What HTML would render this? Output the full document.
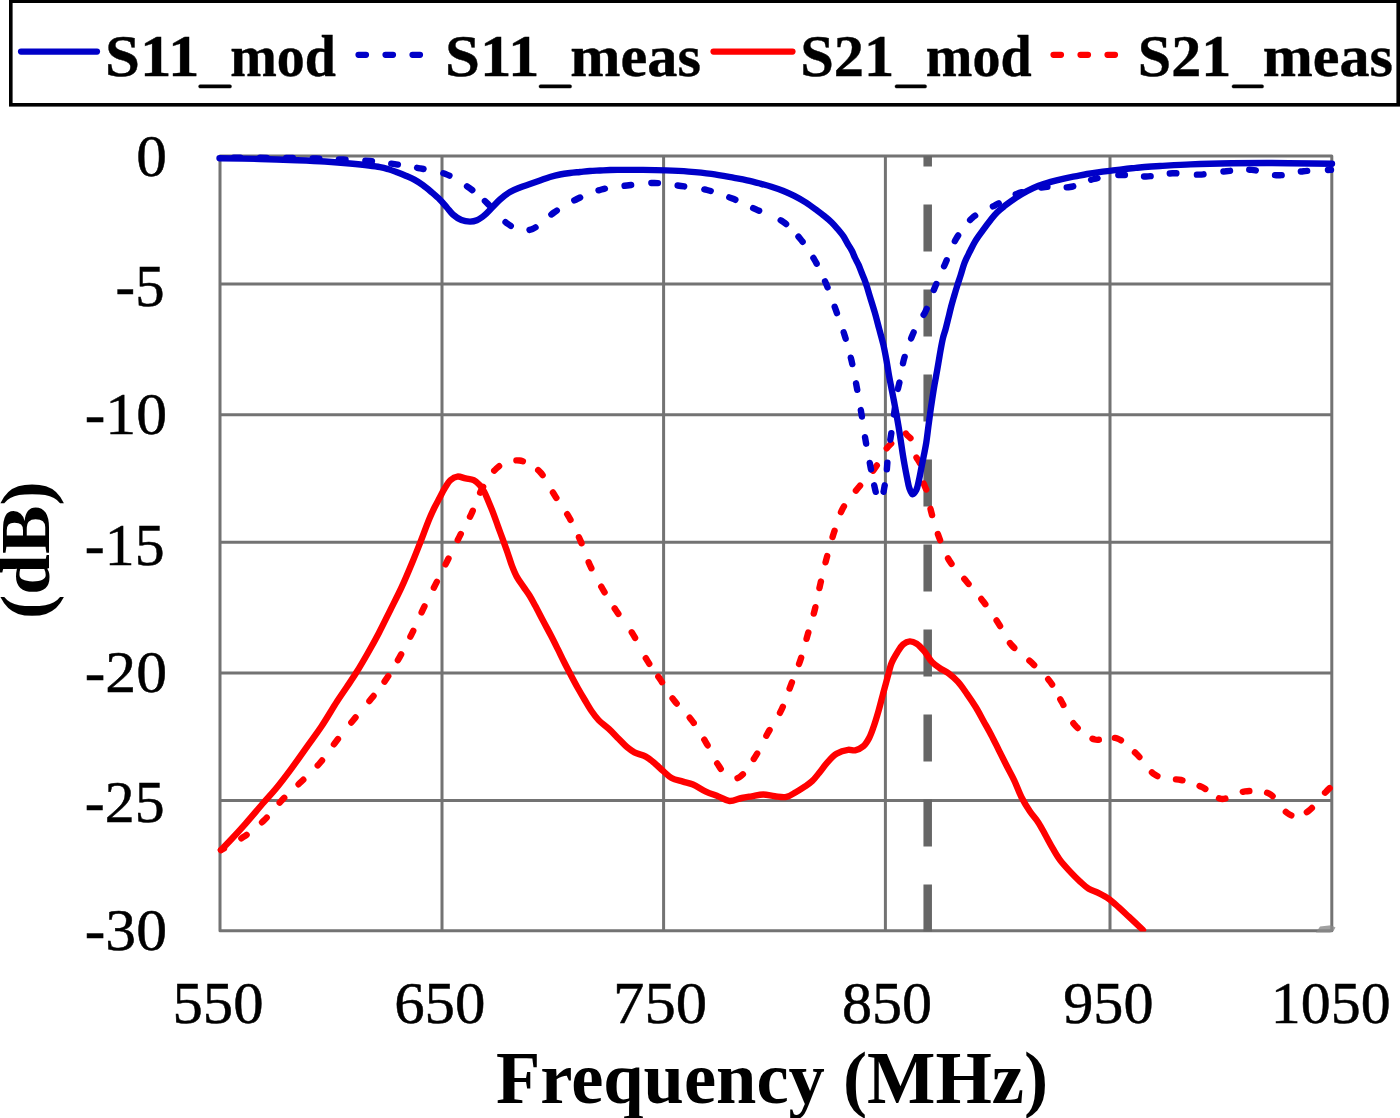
<!DOCTYPE html>
<html><head><meta charset="utf-8"><style>
html,body{margin:0;padding:0;background:#fff;}
svg{display:block;}
text{font-family:"Liberation Serif",serif;}
</style></head><body>
<svg width="1400" height="1118" viewBox="0 0 1400 1118">
<defs><clipPath id="clip"><rect x="214" y="150" width="1125" height="781.5"/></clipPath></defs>
<rect width="1400" height="1118" fill="#fff"/>
<g stroke="#737373" stroke-width="3" fill="none" stroke-linejoin="round"><line x1="442" y1="156" x2="442" y2="930.8"/><line x1="663.6" y1="156" x2="663.6" y2="930.8"/><line x1="885.4" y1="156" x2="885.4" y2="930.8"/><line x1="1110" y1="156" x2="1110" y2="930.8"/><line x1="220" y1="284.1" x2="1331.8" y2="284.1"/><line x1="220" y1="414.7" x2="1331.8" y2="414.7"/><line x1="220" y1="542.3" x2="1331.8" y2="542.3"/><line x1="220" y1="673" x2="1331.8" y2="673"/><line x1="220" y1="800.6" x2="1331.8" y2="800.6"/><rect x="220" y="156" width="1111.8" height="774.8" fill="none"/></g>
<path d="M1316,932.4 L1320,926.5 L1331,925.3 L1335.5,927.5 L1333.5,931 L1330,932.6 Z" fill="#8a8a8a" opacity="0.8"/>
<line x1="927.7" y1="931.5" x2="927.7" y2="156" stroke="#666" stroke-width="8.5" stroke-dasharray="47 38"/>
<g clip-path="url(#clip)">
<path d="M221.00,850.00 C221.00,850.00 236.66,841.70 243.90,836.70 C251.13,831.70 258.07,826.08 264.40,820.00 C270.73,813.92 275.81,806.54 281.90,800.20 C287.98,793.87 294.60,788.17 300.90,782.00 C307.27,775.77 314.06,769.73 319.90,763.00 C325.72,756.30 330.43,748.73 335.90,741.70 C341.40,734.63 346.99,727.76 352.80,720.70 C358.81,713.39 365.62,705.82 371.40,698.60 C376.76,691.91 381.74,685.75 386.40,678.90 C391.11,671.99 395.31,664.72 399.50,657.30 C403.79,649.70 407.89,641.76 411.80,633.80 C415.73,625.79 419.11,617.51 423.00,609.40 C426.94,601.21 431.25,592.97 435.30,584.90 C439.25,577.01 443.06,569.38 447.00,561.50 C451.02,553.45 455.10,545.12 459.20,537.10 C463.23,529.22 467.59,521.82 471.40,513.80 C475.31,505.57 477.95,496.05 482.30,488.30 C486.37,481.04 491.56,473.02 496.40,468.50 C499.86,465.27 503.16,463.33 507.00,462.00 C510.86,460.66 515.57,460.02 519.50,460.50 C523.21,460.96 526.63,462.63 530.00,464.50 C533.65,466.53 537.09,468.75 540.50,472.50 C545.34,477.82 549.71,487.48 554.50,495.00 C559.37,502.65 565.13,510.27 569.50,518.00 C573.63,525.31 576.86,532.44 580.20,540.10 C583.69,548.11 586.16,556.94 589.90,565.10 C593.68,573.35 598.30,581.53 602.80,589.30 C607.15,596.81 611.55,603.77 616.40,611.00 C621.45,618.54 627.56,625.56 632.60,633.60 C637.90,642.07 642.35,652.63 647.30,660.70 C651.53,667.61 655.74,672.86 660.10,679.30 C664.76,686.19 669.15,694.00 674.40,700.80 C679.65,707.60 686.37,713.22 691.60,720.10 C696.88,727.05 701.39,734.70 705.90,742.30 C710.46,749.97 714.30,759.37 718.80,765.90 C722.40,771.13 725.91,777.66 730.00,779.00 C733.19,780.04 736.86,778.78 740.20,776.60 C745.37,773.23 750.75,763.74 755.30,756.60 C760.01,749.21 763.55,740.67 767.90,732.90 C772.22,725.20 777.51,718.07 781.30,710.20 C785.07,702.37 787.45,694.07 790.60,685.80 C793.85,677.25 797.61,668.37 800.50,659.70 C803.29,651.33 805.32,643.04 807.70,634.70 C810.08,626.34 812.71,617.99 814.80,609.60 C816.87,601.29 818.22,593.20 820.20,584.60 C822.33,575.37 824.76,565.13 827.20,556.00 C829.47,547.52 831.66,539.62 834.30,531.60 C836.93,523.62 838.98,515.33 843.00,508.00 C847.08,500.55 853.31,494.01 858.70,487.30 C864.02,480.68 870.44,474.57 875.10,468.00 C879.38,461.95 882.48,454.25 885.90,449.50 C888.29,446.17 890.73,444.27 892.80,441.60 C894.74,439.10 895.95,435.63 898.00,434.00 C899.66,432.68 901.99,431.49 903.60,431.80 C905.13,432.10 906.21,434.21 907.50,435.50 C908.84,436.84 910.37,437.65 911.50,439.70 C913.38,443.12 913.98,451.84 915.40,455.40 C916.20,457.39 917.08,458.33 917.90,459.80 C918.71,461.26 919.65,462.22 920.30,464.20 C921.42,467.61 921.36,475.02 922.30,479.00 C922.96,481.80 923.85,483.77 924.70,486.00 C925.49,488.09 926.40,489.38 927.20,492.00 C928.60,496.57 929.37,504.56 931.10,511.40 C933.10,519.30 935.73,528.36 938.80,536.60 C941.89,544.89 944.98,553.51 949.60,561.00 C954.21,568.47 960.85,574.69 966.50,581.50 C972.15,588.29 978.13,594.76 983.50,601.80 C988.91,608.89 994.10,616.59 998.80,623.90 C1003.22,630.79 1005.91,638.26 1011.00,644.40 C1016.25,650.73 1023.71,655.25 1030.00,661.20 C1036.61,667.45 1044.32,674.06 1049.70,681.10 C1054.63,687.56 1057.46,694.44 1061.50,701.50 C1065.84,709.07 1069.16,718.68 1074.90,725.10 C1080.35,731.20 1088.73,737.85 1094.70,739.50 C1098.76,740.62 1102.23,738.67 1106.00,738.50 C1109.76,738.33 1113.30,737.09 1117.30,738.50 C1123.22,740.58 1130.61,748.20 1136.60,754.00 C1142.77,759.97 1148.10,769.87 1153.70,773.90 C1157.52,776.65 1160.82,777.48 1165.00,778.50 C1169.82,779.68 1175.48,778.81 1181.10,780.00 C1187.62,781.38 1195.11,783.81 1201.70,786.90 C1208.45,790.07 1215.40,798.06 1221.10,798.90 C1225.11,799.49 1228.22,797.16 1232.00,796.00 C1236.19,794.71 1240.00,792.02 1245.10,791.40 C1251.82,790.58 1262.17,790.31 1269.10,793.70 C1276.39,797.27 1281.87,809.50 1287.40,813.10 C1290.82,815.33 1293.69,816.68 1297.00,816.50 C1300.72,816.30 1304.63,813.87 1308.60,810.90 C1314.28,806.65 1321.97,795.83 1326.30,791.40 C1328.67,788.98 1332.00,786.00 1332.00,786.00" fill="none" stroke="#ff0000" stroke-width="6.4" stroke-linecap="round" stroke-linejoin="round" stroke-dasharray="3.49 19.70 6.60 19.87 6.60 19.84 6.60 19.71 6.60 20.28 6.60 20.05 6.60 21.32 6.60 21.32 6.60 18.17 6.60 18.67 6.60 19.93 6.60 20.25 6.60 20.81 6.60 19.56 6.60 20.68 6.60 19.70 6.60 19.47 6.60 19.47 6.60 18.62 6.60 17.97 6.60 19.94 6.60 19.42 6.60 19.42 6.60 20.22 6.60 20.83 6.60 19.01 6.60 22.73 6.60 22.73 6.60 15.98 6.60 19.23 6.60 19.27 6.60 19.82 6.60 20.31 6.60 21.72 6.60 18.61 6.60 19.92 6.60 20.11 6.60 19.52 6.60 19.67 6.60 19.67 6.60 19.67 6.60 19.67 6.60 19.67 6.60 19.67 6.60 19.67 6.60 19.67 6.60 19.67 6.60 19.67 6.60 20.70 6.60 20.38 6.60 20.70 6.60 19.79 6.60 19.70 6.60 19.70 6.60 19.70 6.60 19.70 6.60 19.70 6.60 19.70 6.60 19.70 6.60 19.70 6.60 16.99 6.60 20.61 6.60 18.14 6.60 16.26 6.60 18.31 6.60 19.70 6.60 19.11 6.60 17.95 6.60 16.36 6.60 18.75 6.60 17.81 6.60 20.26 6.60 16.83 6.60 19.78 6.60 2443.34" stroke-dashoffset="4382.13"/>
<path d="M221.00,850.00 C221.00,850.00 226.78,844.14 230.20,840.50 C234.67,835.74 240.14,829.74 245.40,823.80 C251.26,817.17 258.21,808.80 263.70,802.50 C268.13,797.41 271.62,793.86 275.80,788.80 C280.67,782.90 286.00,775.84 291.00,769.10 C296.13,762.19 301.13,754.90 306.20,747.80 C311.27,740.70 316.41,733.97 321.40,726.50 C326.69,718.58 332.34,708.67 337.00,701.50 C340.59,695.98 343.56,691.86 346.80,687.00 C350.06,682.13 353.22,677.54 356.50,672.30 C360.15,666.46 363.93,659.94 367.60,653.50 C371.40,646.82 375.20,639.96 378.90,632.90 C382.74,625.58 386.45,617.84 390.20,610.30 C393.95,602.77 397.76,595.57 401.40,587.70 C405.28,579.32 409.36,569.45 412.70,561.40 C415.50,554.63 417.58,549.28 420.20,542.60 C423.18,535.00 426.88,524.65 429.60,518.20 C431.42,513.87 432.81,510.94 434.50,507.50 C436.11,504.22 437.81,501.18 439.50,498.00 C441.21,494.78 442.82,491.34 444.70,488.30 C446.50,485.39 448.20,482.09 450.50,480.10 C452.52,478.36 454.94,476.91 457.40,476.60 C459.96,476.27 462.87,477.81 465.60,478.40 C468.31,478.98 471.34,478.98 473.70,480.10 C475.94,481.17 477.79,482.94 479.50,484.80 C481.31,486.77 482.75,489.08 484.20,491.70 C485.90,494.77 487.28,498.60 488.80,502.20 C490.38,505.96 491.98,509.82 493.50,513.80 C495.08,517.95 496.55,522.34 498.10,526.60 C499.65,530.87 501.25,535.13 502.80,539.40 C504.35,543.66 505.88,547.83 507.40,552.20 C508.98,556.75 510.44,561.91 512.10,566.20 C513.56,569.96 514.83,573.20 516.70,576.60 C518.66,580.18 521.46,583.80 523.70,587.10 C525.71,590.06 527.65,592.53 529.50,595.50 C531.46,598.64 533.09,601.79 535.10,605.50 C537.58,610.09 540.50,615.88 543.20,621.00 C545.86,626.05 548.70,631.17 551.20,636.00 C553.51,640.45 555.55,644.58 557.70,648.90 C559.86,653.24 561.96,657.74 564.10,662.00 C566.16,666.10 568.12,669.85 570.30,674.00 C572.67,678.50 575.33,683.58 577.80,688.00 C580.06,692.04 582.22,695.68 584.50,699.50 C586.79,703.34 589.05,707.46 591.50,711.00 C593.77,714.28 595.87,717.24 598.60,720.10 C601.52,723.16 605.32,725.66 608.60,728.70 C611.99,731.85 615.39,735.49 618.60,738.70 C621.57,741.67 624.35,744.92 627.20,747.30 C629.62,749.32 631.62,750.84 634.40,752.30 C637.67,754.02 642.38,754.73 645.80,756.60 C649.00,758.35 651.59,760.68 654.40,763.00 C657.33,765.43 660.10,768.37 663.00,770.90 C665.83,773.37 668.34,776.23 671.60,778.00 C674.98,779.84 679.32,780.48 683.00,781.60 C686.44,782.64 689.54,783.07 693.00,784.50 C697.12,786.21 701.53,789.56 705.90,791.60 C710.14,793.58 714.71,794.97 718.80,796.60 C722.54,798.09 725.77,800.72 729.50,801.00 C733.39,801.29 737.83,798.81 741.70,798.00 C745.16,797.28 748.16,796.86 751.60,796.30 C755.33,795.69 759.41,794.50 763.30,794.50 C767.18,794.50 771.02,795.90 774.90,796.30 C778.76,796.70 782.94,797.65 786.50,796.90 C789.87,796.19 792.74,793.92 795.80,792.20 C798.94,790.43 802.26,788.34 805.10,786.40 C807.64,784.67 809.88,783.28 812.10,781.20 C814.57,778.89 816.72,775.92 819.10,773.00 C821.74,769.77 824.28,765.82 827.20,762.60 C830.08,759.43 832.97,755.94 836.50,753.80 C839.96,751.71 844.68,750.25 848.10,749.80 C850.69,749.46 852.74,750.76 855.10,750.30 C857.79,749.78 861.00,748.25 863.30,746.30 C865.71,744.25 867.43,741.18 869.10,738.10 C870.96,734.67 872.23,730.65 873.70,726.50 C875.35,721.83 876.90,716.63 878.40,711.40 C880.00,705.82 881.46,699.72 883.00,694.00 C884.50,688.42 886.02,682.82 887.50,677.50 C888.89,672.51 889.83,667.36 891.60,663.00 C893.18,659.12 895.30,655.71 897.30,652.50 C899.12,649.59 900.74,646.38 903.00,644.50 C904.96,642.87 907.42,641.53 909.70,641.40 C911.98,641.27 914.47,642.33 916.70,643.70 C919.39,645.35 921.88,648.45 924.30,651.30 C926.97,654.44 929.15,659.00 931.90,661.90 C934.27,664.41 936.78,666.13 939.50,668.00 C942.33,669.94 945.67,671.15 948.60,673.30 C951.79,675.64 954.88,678.49 957.80,681.70 C961.02,685.24 963.93,689.60 966.90,693.80 C970.00,698.18 973.19,702.88 976.00,707.50 C978.74,712.01 981.07,716.63 983.60,721.20 C986.13,725.77 988.72,730.19 991.20,734.90 C993.79,739.81 996.27,745.03 998.80,750.10 C1001.33,755.17 1003.83,760.26 1006.40,765.30 C1008.96,770.33 1011.73,775.10 1014.20,780.30 C1016.78,785.72 1018.79,791.88 1021.50,797.20 C1024.08,802.25 1027.03,807.08 1030.00,811.50 C1032.75,815.60 1035.98,818.89 1038.60,822.90 C1041.26,826.98 1043.41,831.50 1045.80,835.80 C1048.18,840.10 1050.47,844.56 1052.90,848.70 C1055.24,852.68 1057.33,856.48 1060.10,860.20 C1063.02,864.13 1066.71,867.98 1070.10,871.60 C1073.38,875.10 1076.83,878.60 1080.10,881.60 C1083.01,884.27 1085.57,886.88 1088.70,888.80 C1091.78,890.70 1095.40,891.47 1098.70,893.10 C1102.10,894.79 1105.55,896.52 1108.80,898.80 C1112.27,901.23 1115.50,904.44 1118.80,907.40 C1122.16,910.41 1125.18,913.32 1128.80,916.70 C1133.12,920.73 1143.00,930.00 1143.00,930.00" fill="none" stroke="#ff0000" stroke-width="6.4" stroke-linecap="round" stroke-linejoin="round"/>
<path d="M219.50,157.50 C219.50,157.50 247.51,157.71 260.00,157.80 C270.75,157.88 279.28,157.83 290.00,158.00 C302.38,158.20 316.67,158.50 330.00,159.00 C343.34,159.50 358.30,159.97 370.00,161.00 C379.21,161.81 386.32,162.89 394.60,164.10 C403.09,165.34 411.73,166.70 420.30,168.40 C428.99,170.12 438.19,171.13 446.40,174.40 C454.63,177.68 462.61,183.10 469.60,188.10 C476.07,192.73 482.34,198.57 487.10,203.10 C490.67,206.50 492.77,209.25 496.00,212.50 C499.66,216.18 503.73,220.94 508.00,224.00 C511.93,226.82 516.26,229.74 520.50,230.50 C524.43,231.21 528.80,230.44 532.50,229.00 C536.32,227.51 539.50,224.17 543.00,221.50 C546.67,218.69 549.52,215.62 554.00,212.50 C560.14,208.23 569.05,202.84 577.00,199.00 C584.89,195.19 593.13,191.75 601.50,189.50 C609.80,187.27 618.33,186.57 627.00,185.50 C635.95,184.39 645.34,182.90 654.40,183.00 C663.34,183.10 672.20,184.83 681.00,186.00 C689.73,187.16 698.47,187.92 707.00,190.00 C715.61,192.10 724.17,195.33 732.40,198.60 C740.50,201.81 747.86,205.67 756.00,209.40 C764.75,213.41 775.55,216.59 783.20,221.90 C790.08,226.68 795.19,232.69 800.40,239.00 C805.79,245.52 810.61,253.00 814.90,260.50 C819.21,268.03 822.76,275.99 826.20,284.10 C829.71,292.38 832.63,301.16 835.70,309.70 C838.76,318.19 841.95,326.66 844.60,335.20 C847.21,343.63 849.50,352.07 851.50,360.60 C853.50,369.11 854.98,377.64 856.60,386.30 C858.25,395.11 859.82,404.07 861.30,413.00 C862.79,421.97 864.04,431.47 865.50,440.00 C866.82,447.72 868.24,454.84 869.60,462.00 C870.90,468.83 872.21,476.19 873.50,482.00 C874.51,486.52 875.19,491.04 876.50,494.00 C877.37,495.96 878.46,498.44 879.50,498.50 C880.46,498.56 881.73,496.52 882.50,495.00 C883.53,492.97 883.81,490.05 884.40,487.00 C885.17,483.00 885.96,477.59 886.50,473.00 C887.02,468.59 887.17,464.24 887.60,460.00 C888.01,455.92 888.46,451.94 889.00,448.00 C889.53,444.15 890.15,440.87 890.80,436.60 C891.62,431.16 892.52,424.72 893.50,418.00 C894.66,410.06 895.90,399.53 897.30,392.00 C898.39,386.15 899.76,381.68 900.80,376.50 C901.83,371.35 902.27,365.99 903.50,361.00 C904.69,356.17 906.47,351.39 908.00,347.00 C909.38,343.04 910.62,339.63 912.20,335.80 C913.92,331.65 915.79,327.00 918.00,323.00 C920.12,319.16 922.78,316.68 925.10,312.20 C928.43,305.78 931.43,295.63 934.80,287.50 C938.13,279.46 941.70,271.71 945.20,263.70 C948.77,255.54 952.42,245.46 956.00,239.00 C958.51,234.46 960.81,231.50 963.50,228.00 C966.17,224.53 968.84,220.94 972.10,218.10 C975.35,215.27 979.28,213.07 983.00,211.00 C986.61,208.99 990.44,207.63 994.10,205.80 C997.77,203.96 1001.30,201.94 1005.00,200.00 C1008.80,198.01 1011.75,195.82 1016.60,194.00 C1023.86,191.27 1035.77,188.12 1045.00,187.00 C1053.53,185.96 1061.86,188.32 1070.00,187.00 C1078.19,185.67 1085.75,180.99 1094.00,179.00 C1102.41,176.97 1111.31,175.41 1120.00,175.00 C1128.65,174.59 1137.31,176.77 1146.00,176.50 C1154.78,176.22 1163.53,173.62 1172.40,173.30 C1181.36,172.97 1190.53,174.96 1199.50,174.60 C1208.40,174.25 1217.21,171.98 1226.00,171.20 C1234.64,170.43 1243.24,169.23 1251.80,169.90 C1260.44,170.58 1268.98,175.09 1277.60,175.30 C1286.18,175.51 1294.63,172.10 1303.40,171.20 C1312.42,170.27 1331.00,169.90 1331.00,169.90" fill="none" stroke="#0000c8" stroke-width="6.4" stroke-linecap="round" stroke-linejoin="round" stroke-dasharray="6.60 19.70 6.60 19.70 6.60 19.70 6.60 19.70 6.60 19.70 6.60 19.70 6.60 19.46 6.60 20.23 6.60 20.41 6.60 16.47 6.60 22.99 6.60 19.84 6.60 20.58 6.60 20.09 6.60 19.72 6.60 19.91 6.60 20.26 6.60 19.86 6.60 20.39 6.60 19.57 6.60 19.69 6.60 23.39 6.60 17.74 6.60 19.36 6.60 19.58 6.60 20.71 6.60 20.41 6.60 19.73 6.60 19.60 6.60 20.51 6.60 20.73 6.60 19.73 6.60 16.11 6.60 16.11 6.60 16.11 6.60 23.32 6.60 18.95 6.60 18.95 6.60 19.55 6.60 19.70 6.60 20.40 6.60 19.95 6.60 19.37 6.60 20.56 6.60 19.67 6.60 20.08 6.60 19.33 6.60 19.33 6.60 19.33 6.60 19.04 6.60 21.04 6.60 19.15 6.60 19.35 6.60 20.55 6.60 20.13 6.60 19.27 6.60 19.82 6.60 19.58 6.60 20.51 6.60 2086.17" stroke-dashoffset="3632.31"/>
<path d="M219.50,158.30 C219.50,158.30 247.51,158.68 260.00,159.00 C270.75,159.27 279.62,159.60 290.00,160.00 C301.22,160.43 314.32,160.84 325.00,161.50 C334.04,162.06 341.30,162.63 350.00,163.50 C359.55,164.45 373.06,165.80 380.00,167.10 C383.76,167.80 385.76,168.44 388.60,169.30 C391.46,170.17 394.27,171.24 397.10,172.30 C399.97,173.37 402.85,174.49 405.70,175.70 C408.58,176.92 411.49,178.07 414.30,179.60 C417.22,181.19 420.10,183.08 422.90,185.10 C425.80,187.20 428.59,189.60 431.40,192.00 C434.29,194.46 437.36,197.05 440.00,199.70 C442.51,202.22 444.69,204.96 446.90,207.50 C448.98,209.89 450.56,212.45 452.90,214.50 C455.36,216.65 458.44,218.82 461.40,220.00 C464.15,221.10 467.29,221.60 470.00,221.60 C472.43,221.60 474.63,221.23 476.90,220.30 C479.51,219.23 482.20,217.08 484.60,215.10 C487.04,213.09 489.01,210.72 491.40,208.30 C494.11,205.56 496.91,202.21 500.00,199.50 C503.11,196.77 506.55,194.04 510.00,192.00 C513.23,190.09 516.64,188.84 520.00,187.50 C523.31,186.18 526.67,185.17 530.00,184.00 C533.33,182.83 536.67,181.67 540.00,180.50 C543.33,179.33 546.64,178.00 550.00,177.00 C553.31,176.01 556.65,175.17 560.00,174.50 C563.32,173.84 566.66,173.42 570.00,173.00 C573.33,172.58 576.67,172.33 580.00,172.00 C583.33,171.67 586.66,171.25 590.00,171.00 C593.33,170.75 596.67,170.67 600.00,170.50 C603.33,170.33 606.67,170.10 610.00,170.00 C613.33,169.90 615.99,169.92 620.00,169.90 C626.07,169.87 635.28,169.82 642.90,169.90 C650.51,169.98 658.09,170.12 665.70,170.40 C673.33,170.68 680.98,171.02 688.60,171.60 C696.22,172.18 703.81,172.86 711.40,173.90 C719.04,174.95 727.79,176.72 734.30,177.90 C739.16,178.78 742.75,179.38 747.00,180.30 C751.32,181.24 755.82,182.40 760.00,183.50 C763.93,184.54 767.61,185.51 771.40,186.70 C775.24,187.91 779.11,189.18 782.90,190.70 C786.74,192.24 790.54,193.98 794.30,195.90 C798.14,197.87 801.96,200.01 805.70,202.40 C809.56,204.86 813.85,208.10 817.10,210.50 C819.59,212.34 821.35,213.68 823.60,215.50 C826.13,217.54 829.08,219.85 831.50,222.20 C833.83,224.46 835.87,226.89 837.90,229.30 C839.89,231.66 841.95,234.04 843.60,236.50 C845.15,238.82 846.23,241.23 847.60,243.60 C848.99,246.00 850.64,248.36 851.90,250.80 C853.13,253.16 853.97,255.62 855.10,258.00 C856.24,260.39 857.63,262.70 858.70,265.10 C859.76,267.47 860.55,269.91 861.50,272.30 C862.45,274.68 863.50,277.01 864.40,279.40 C865.30,281.78 866.13,284.20 866.90,286.60 C867.66,288.97 868.12,290.78 869.00,293.70 C870.43,298.42 872.98,306.23 874.70,312.20 C876.29,317.74 877.57,322.93 879.00,328.30 C880.43,333.67 882.05,339.01 883.30,344.40 C884.54,349.75 885.52,355.13 886.50,360.50 C887.48,365.86 888.24,371.30 889.20,376.60 C890.14,381.80 891.22,386.94 892.20,392.00 C893.15,396.91 894.10,401.66 895.00,406.50 C895.90,411.33 896.77,416.16 897.60,421.00 C898.43,425.83 899.21,430.47 900.00,435.50 C900.85,440.94 901.68,447.27 902.50,452.50 C903.21,456.99 903.85,460.83 904.60,465.00 C905.35,469.20 906.17,473.58 907.00,477.60 C907.77,481.32 908.29,485.31 909.40,488.30 C910.27,490.66 911.38,494.16 912.60,494.30 C913.71,494.43 915.33,491.92 916.30,490.10 C917.58,487.70 918.02,484.07 918.80,480.70 C919.70,476.84 920.47,472.37 921.30,468.20 C922.13,464.03 922.98,459.93 923.80,455.70 C924.64,451.36 925.57,447.07 926.30,442.50 C927.08,437.60 927.64,432.21 928.30,427.20 C928.94,422.35 929.53,417.66 930.20,412.90 C930.87,408.13 931.57,403.36 932.30,398.60 C933.03,393.83 933.78,389.06 934.60,384.30 C935.42,379.53 936.44,374.34 937.20,370.00 C937.84,366.37 938.33,363.33 938.90,360.00 C939.47,356.67 939.95,353.51 940.60,350.00 C941.33,346.06 942.17,341.23 943.10,337.50 C943.87,334.40 944.78,332.09 945.60,329.10 C946.52,325.74 947.41,321.89 948.30,318.30 C949.18,314.73 949.97,311.16 950.90,307.60 C951.84,304.03 952.87,300.47 953.90,296.90 C954.94,293.30 955.98,289.68 957.10,286.10 C958.22,282.52 959.41,279.13 960.60,275.40 C961.90,271.33 963.03,266.63 964.60,262.60 C966.09,258.79 967.92,255.37 969.70,251.80 C971.49,248.21 973.17,244.60 975.30,241.10 C977.52,237.46 980.23,233.94 982.80,230.40 C985.39,226.84 988.24,223.01 990.80,219.80 C993.01,217.02 994.84,214.55 997.20,212.20 C999.60,209.81 1002.23,207.84 1005.10,205.60 C1008.36,203.06 1012.13,200.21 1015.80,197.80 C1019.43,195.41 1023.18,193.21 1027.00,191.20 C1030.79,189.21 1034.64,187.35 1038.60,185.80 C1042.54,184.25 1046.64,183.07 1050.70,181.90 C1054.74,180.74 1058.83,179.72 1062.90,178.80 C1066.93,177.89 1070.97,177.20 1075.00,176.40 C1079.03,175.60 1083.05,174.72 1087.10,174.00 C1091.15,173.28 1095.24,172.67 1099.30,172.10 C1103.34,171.54 1107.36,171.10 1111.40,170.60 C1115.46,170.10 1119.54,169.55 1123.60,169.10 C1127.64,168.65 1131.66,168.30 1135.70,167.90 C1139.76,167.50 1143.84,167.02 1147.90,166.70 C1151.94,166.38 1155.04,166.27 1160.00,166.00 C1167.89,165.57 1179.74,164.83 1190.70,164.40 C1203.31,163.90 1217.84,163.53 1231.40,163.30 C1244.94,163.07 1257.15,162.96 1272.00,163.00 C1290.05,163.05 1332.00,163.80 1332.00,163.80" fill="none" stroke="#0000c8" stroke-width="6.4" stroke-linecap="round" stroke-linejoin="round"/>
</g>
<g fill="#000" stroke="#000" stroke-width="0.5"><text x="136.30" y="175.71" font-size="59.11" font-weight="normal" textLength="30.71" lengthAdjust="spacingAndGlyphs">0</text><text x="115.60" y="306.20" font-size="59.85" font-weight="normal" textLength="48.88" lengthAdjust="spacingAndGlyphs">-5</text><text x="84.79" y="434.01" font-size="59.11" font-weight="normal" textLength="82.26" lengthAdjust="spacingAndGlyphs">-10</text><text x="84.86" y="564.51" font-size="59.40" font-weight="normal" textLength="79.66" lengthAdjust="spacingAndGlyphs">-15</text><text x="84.79" y="692.01" font-size="59.11" font-weight="normal" textLength="82.26" lengthAdjust="spacingAndGlyphs">-20</text><text x="84.86" y="822.41" font-size="59.33" font-weight="normal" textLength="79.66" lengthAdjust="spacingAndGlyphs">-25</text><text x="84.79" y="950.31" font-size="59.11" font-weight="normal" textLength="82.26" lengthAdjust="spacingAndGlyphs">-30</text><text x="172.51" y="1023.21" font-size="58.81" font-weight="normal" textLength="91.07" lengthAdjust="spacingAndGlyphs">550</text><text x="394.21" y="1023.21" font-size="58.81" font-weight="normal" textLength="91.27" lengthAdjust="spacingAndGlyphs">650</text><text x="613.13" y="1023.21" font-size="58.81" font-weight="normal" textLength="94.03" lengthAdjust="spacingAndGlyphs">750</text><text x="841.95" y="1023.21" font-size="58.81" font-weight="normal" textLength="90.11" lengthAdjust="spacingAndGlyphs">850</text><text x="1063.24" y="1023.21" font-size="58.81" font-weight="normal" textLength="90.31" lengthAdjust="spacingAndGlyphs">950</text><text x="1270.86" y="1023.21" font-size="58.81" font-weight="normal" textLength="119.79" lengthAdjust="spacingAndGlyphs">1050</text></g>
<text x="496.03" y="1102.60" font-size="74.81" font-weight="bold" textLength="552.11" lengthAdjust="spacingAndGlyphs">Frequency (MHz)</text>
<text transform="translate(49,618.88) rotate(-90)" x="0" y="0" font-size="69.92" font-weight="bold" textLength="137.60" lengthAdjust="spacingAndGlyphs">(dB)</text>
<rect x="10.8" y="1.2" width="1387.4" height="103.6" fill="#fff" stroke="#000" stroke-width="3.6"/><line x1="21" y1="51.6" x2="97" y2="51.6" stroke="#0000c8" stroke-width="6.2" stroke-linecap="round"/><line x1="358.5" y1="54.8" x2="422" y2="54.8" stroke="#0000c8" stroke-width="6.2" stroke-linecap="round" stroke-dasharray="7.5 19.5"/><line x1="713.5" y1="51.6" x2="792.5" y2="51.6" stroke="#ff0000" stroke-width="6.2" stroke-linecap="round"/><line x1="1053.5" y1="54.8" x2="1117" y2="54.8" stroke="#ff0000" stroke-width="6.2" stroke-linecap="round" stroke-dasharray="7.5 19.5"/><g fill="#000" stroke="#000" stroke-width="0.4"><text x="105.10" y="75.50" font-size="59.50" font-weight="bold" textLength="94.26" lengthAdjust="spacingAndGlyphs">S11</text><rect x="198.6" y="84.7" width="32.9" height="3.4" rx="1.5"/><text x="230.16" y="75.50" font-size="59.50" font-weight="bold" textLength="105.69" lengthAdjust="spacingAndGlyphs">mod</text><text x="445.10" y="75.50" font-size="59.50" font-weight="bold" textLength="94.26" lengthAdjust="spacingAndGlyphs">S11</text><rect x="539.0" y="84.7" width="32.6" height="3.4" rx="1.5"/><text x="570.34" y="75.50" font-size="59.50" font-weight="bold" textLength="130.68" lengthAdjust="spacingAndGlyphs">meas</text><text x="800.23" y="75.50" font-size="59.50" font-weight="bold" textLength="94.01" lengthAdjust="spacingAndGlyphs">S21</text><rect x="895.0" y="84.7" width="31.6" height="3.4" rx="1.5"/><text x="925.86" y="75.50" font-size="59.50" font-weight="bold" textLength="105.79" lengthAdjust="spacingAndGlyphs">mod</text><text x="1137.85" y="75.50" font-size="59.50" font-weight="bold" textLength="93.37" lengthAdjust="spacingAndGlyphs">S21</text><rect x="1232.0" y="84.7" width="31.6" height="3.4" rx="1.5"/><text x="1262.75" y="75.50" font-size="59.50" font-weight="bold" textLength="130.27" lengthAdjust="spacingAndGlyphs">meas</text></g>
</svg>
</body></html>
